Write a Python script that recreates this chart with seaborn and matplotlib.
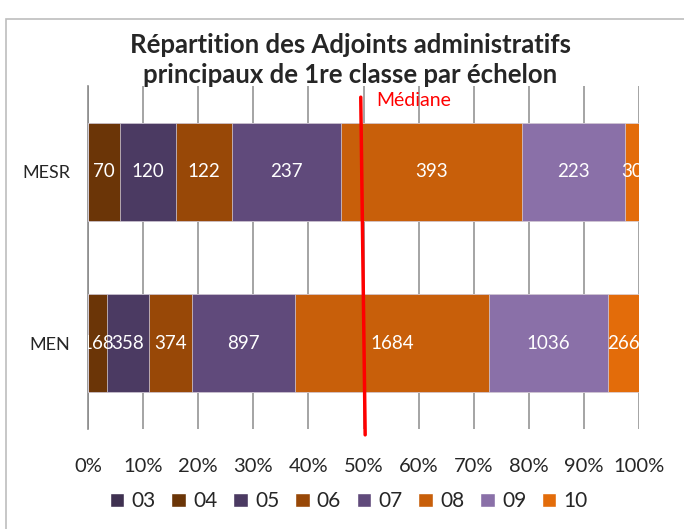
import matplotlib
matplotlib.use('Agg')
import matplotlib.pyplot as plt
import seaborn as sns
import pandas as pd
import numpy as np
from matplotlib.patches import Rectangle, Patch

# data
categories = ['MESR', 'MEN']
echelons = ['03', '04', '05', '06', '07', '08', '09', '10']
mesr = [0, 70, 120, 122, 237, 393, 223, 30]
men = [0, 168, 358, 374, 897, 1684, 1036, 266]
colors = ['#3F3151', '#6B3507', '#4B3A62', '#984807', '#604A7B',
          '#C85F0A', '#8A70A8', '#E36C0A']
median_label = 'Médiane'
title = 'Répartition des Adjoints administratifs\nprincipaux de 1re classe par échelon'

counts = pd.DataFrame([mesr, men], index=categories, columns=echelons)
pct = counts.div(counts.sum(axis=1), axis=0) * 100
cum = pct.cumsum(axis=1)

sns.set_style('white')
plt.rcParams['font.family'] = ['Lato', 'DejaVu Sans']

fig = plt.figure(figsize=(6.84, 5.29), dpi=100)
ax = fig.add_axes([0.1287, 0.189, 0.8055, 0.648])

# stacked bars: draw cumulative totals from last to first
for ech, col in reversed(list(zip(echelons, colors))):
    df = pd.DataFrame({'cat': categories, 'val': cum[ech].values})
    sns.barplot(data=df, x='val', y='cat', orient='h', color=col,
                width=0.57, ax=ax, edgecolor='#D9D4E0', linewidth=0.5,
                saturation=1, zorder=3)

# labels at segment centres
for i, cat in enumerate(categories):
    left = 0
    for ech in echelons:
        w = pct.loc[cat, ech]
        if counts.loc[cat, ech] > 0:
            ax.text(left + w / 2, i, str(counts.loc[cat, ech]), ha='center',
                    va='center', color='white', fontsize=13.5, zorder=5,
                    clip_on=True)
        left += w

ax.set_xlim(0, 100)
ax.set_ylim(1.5, -0.5)
ax.set_xticks(np.arange(0, 101, 10))
ax.set_xticklabels([f'{t}%' for t in range(0, 101, 10)], fontsize=14.5)
ax.tick_params(axis='x', length=0, pad=21)
ax.tick_params(axis='y', length=0, pad=13, labelsize=13)
ax.set_xlabel('')
ax.set_ylabel('')
ax.xaxis.grid(True, color='#959595', linewidth=1.2, zorder=0)
ax.set_axisbelow(True)
for s in ['top', 'right', 'bottom']:
    ax.spines[s].set_visible(False)
ax.spines['left'].set_color('#8C8C8C')
ax.spines['left'].set_linewidth(1.2)

# median line
ax.plot([49.5, 50.3], [0.968, -0.017], color='#FF0000', linewidth=2.5,
        transform=ax.get_xaxis_transform(), clip_on=False, zorder=6)
ax.text(52.3, 0.957, median_label, color='#FF0000', fontsize=14,
        va='center', ha='left', transform=ax.get_xaxis_transform())

fig.text(0.512, 0.887, title, ha='center', va='center', fontsize=18.5,
         fontweight='bold', linespacing=1.3)

handles = [Patch(facecolor=c, label=e) for e, c in zip(echelons, colors)]
fig.legend(handles=handles, loc='center', bbox_to_anchor=(0.51, 0.052),
           ncol=8, frameon=False, fontsize=15, handlelength=0.7,
           handleheight=0.7, handletextpad=0.35, columnspacing=0.75)

fig.add_artist(Rectangle((0.009, -0.02), 1.0, 1.005 - 0.02 - 0.0,
                         transform=fig.transFigure, fill=False,
                         edgecolor='#BDBDBD', linewidth=1.2, clip_on=False))

fig.savefig('out.png', dpi=100)
